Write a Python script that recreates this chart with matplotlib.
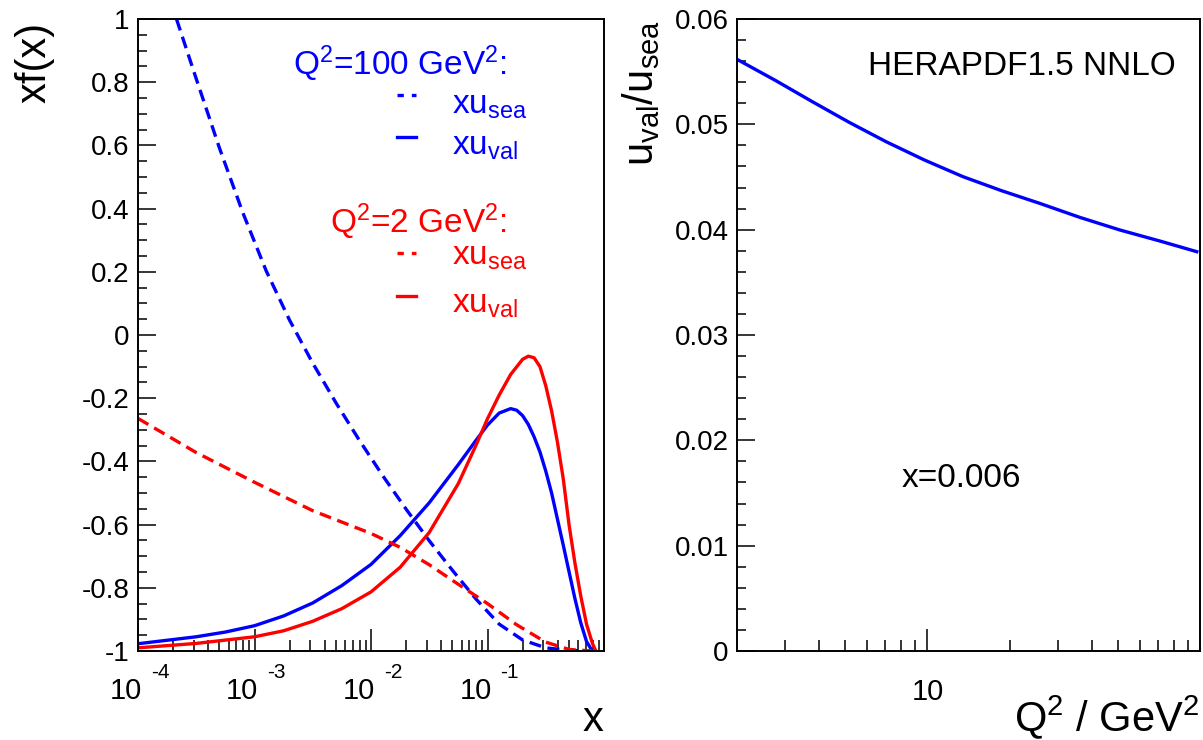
import matplotlib
matplotlib.use("Agg")
import matplotlib.pyplot as plt
from matplotlib.ticker import FixedLocator, MultipleLocator, NullFormatter, FuncFormatter
from matplotlib.transforms import offset_copy


# left panel: curves (x, xf(x))
sea100_x = [2.14e-4, 3.16e-4, 5.01e-4, 7.94e-4, 1.26e-3, 2.0e-3, 3.16e-3, 5.01e-3,
            7.94e-3, 0.0126, 0.02, 0.0316, 0.0501, 0.0794, 0.126, 0.2, 0.316, 0.501, 0.794]
sea100_y = [1.0, 0.811, 0.591, 0.387, 0.203, 0.047, -0.089, -0.215,
            -0.333, -0.445, -0.551, -0.651, -0.745, -0.835, -0.915, -0.965, -0.990, -0.998, -1.0]

val100_x = [1e-4, 3.16e-4, 5.62e-4, 1e-3, 1.78e-3, 3.16e-3, 5.62e-3, 0.01, 0.0178,
            0.0316, 0.0562, 0.0794, 0.1, 0.126, 0.158, 0.178, 0.2, 0.224, 0.251, 0.282,
            0.316, 0.355, 0.398, 0.447, 0.501, 0.562, 0.631, 0.708, 0.794]
val100_y = [-0.977, -0.955, -0.940, -0.920, -0.889, -0.848, -0.793, -0.726, -0.635,
            -0.531, -0.410, -0.334, -0.285, -0.247, -0.233, -0.238, -0.255, -0.283, -0.322, -0.370,
            -0.430, -0.500, -0.582, -0.665, -0.749, -0.833, -0.910, -0.970, -1.0]

sea2_x = [1e-4, 3.16e-4, 1e-3, 3.16e-3, 0.01, 0.0178, 0.0316, 0.0562,
          0.1, 0.178, 0.316, 0.501, 0.794]
sea2_y = [-0.264, -0.372, -0.466, -0.556, -0.628, -0.672, -0.727, -0.789,
          -0.850, -0.917, -0.972, -0.995, -1.0]

val2_x = [1e-4, 3.16e-4, 1e-3, 1.78e-3, 3.16e-3, 5.62e-3, 0.01, 0.0178, 0.0316,
          0.0562, 0.0794, 0.1, 0.126, 0.158, 0.2, 0.224, 0.251, 0.282, 0.316,
          0.355, 0.398, 0.447, 0.501, 0.562, 0.631, 0.708, 0.794, 0.851]
val2_y = [-0.990, -0.976, -0.955, -0.936, -0.906, -0.866, -0.813, -0.735, -0.625,
          -0.470, -0.350, -0.265, -0.190, -0.125, -0.077, -0.067, -0.072, -0.100, -0.160,
          -0.240, -0.338, -0.455, -0.600, -0.720, -0.825, -0.915, -0.975, -1.0]

# right panel: u_val / u_sea at x=0.006 vs Q^2
q2 = [2.0, 2.78, 3.78, 5.16, 7.05, 9.75, 13.5, 18.7, 25.8, 36.2, 50.8, 71.3, 97.3]
ratio = [0.05617, 0.05414, 0.05215, 0.05019, 0.04835, 0.04661, 0.04503, 0.04370,
         0.04250, 0.04117, 0.03997, 0.03892, 0.03791]

x_decades = [1e-4, 1e-3, 1e-2, 1e-1]
x_exponents = ["-4", "-3", "-2", "-1"]

BLUE = "#0000ff"
RED = "#ff0000"
DASH = (3.6, 2.0)
KEY_DASH = (1.9, 2.4)


plt.rcParams["font.family"] = ["Liberation Sans", "DejaVu Sans"]
plt.rcParams["mathtext.fontset"] = "custom"
plt.rcParams["mathtext.rm"] = "Liberation Sans"
plt.rcParams["mathtext.it"] = "Liberation Sans:italic"
plt.rcParams["mathtext.default"] = "regular"
plt.rcParams["axes.unicode_minus"] = False

W, H = 1203, 740
fig = plt.figure(figsize=(W / 100, H / 100), dpi=100)

ax1 = fig.add_axes([138 / W, (H - 651) / H, 466 / W, 632 / H])
ax2 = fig.add_axes([737 / W, (H - 651) / H, 463 / W, 632 / H])


def tick_text(v, pos):
    s = f"{round(v, 4):g}"
    return "0" if s == "-0" else s


def style_axes(ax):
    for s in ax.spines.values():
        s.set_linewidth(1.4)
    ax.tick_params(which="both", direction="in", top=False, right=False,
                   width=1.1, colors="black")
    ax.tick_params(axis="y", which="major", length=13, pad=6, labelsize=20)
    ax.tick_params(axis="y", which="minor", length=6.5)
    ax.tick_params(axis="x", which="major", length=16)
    ax.tick_params(axis="x", which="minor", length=8)
    ax.yaxis.set_major_formatter(FuncFormatter(tick_text))


# ---- left panel
lw = 2.4
ax1.plot(sea100_x, sea100_y, color=BLUE, lw=lw, dashes=DASH)
ax1.plot(val100_x, val100_y, color=BLUE, lw=lw)
ax1.plot(sea2_x, sea2_y, color=RED, lw=lw, dashes=DASH)
ax1.plot(val2_x, val2_y, color=RED, lw=lw)

ax1.set_xscale("log")
ax1.set_xlim(1e-4, 1)
ax1.set_ylim(-1, 1)
style_axes(ax1)

ax1.xaxis.set_major_locator(FixedLocator(x_decades))
ax1.xaxis.set_minor_locator(FixedLocator(
    [m * d for d in x_decades for m in range(2, 10)]))
ax1.xaxis.set_major_formatter(NullFormatter())
ax1.xaxis.set_minor_formatter(NullFormatter())
ax1.yaxis.set_major_locator(MultipleLocator(0.2))
ax1.yaxis.set_minor_locator(MultipleLocator(0.05))

base_tr = offset_copy(ax1.get_xaxis_transform(), fig=fig, x=4, y=-48, units="dots")
exp_tr = offset_copy(ax1.get_xaxis_transform(), fig=fig, x=13, y=-27, units="dots")
for d, e in zip(x_decades, x_exponents):
    ax1.text(d, 0, "10", transform=base_tr, ha="right", va="baseline", fontsize=21)
    ax1.text(d, 0, e, transform=exp_tr, ha="left", va="baseline", fontsize=15)

# legend block
tsize = 24
key_x = [0.556, 0.596]
ax1.text(0.792, 0.911, r"Q$^2$=100 GeV$^2$:", color=BLUE, fontsize=tsize,
         ha="right", va="baseline", transform=ax1.transAxes)
ax1.plot(key_x, [0.880, 0.880], color=BLUE, lw=lw, dashes=KEY_DASH,
         transform=ax1.transAxes)
ax1.text(0.674, 0.851, r"xu$_{sea}$", color=BLUE, fontsize=tsize,
         ha="left", va="baseline", transform=ax1.transAxes)
ax1.plot(key_x, [0.813, 0.813], color=BLUE, lw=lw,
         transform=ax1.transAxes)
ax1.text(0.674, 0.785, r"xu$_{val}$", color=BLUE, fontsize=tsize,
         ha="left", va="baseline", transform=ax1.transAxes)

ax1.text(0.792, 0.661, r"Q$^2$=2 GeV$^2$:", color=RED, fontsize=tsize,
         ha="right", va="baseline", transform=ax1.transAxes)
ax1.plot(key_x, [0.630, 0.630], color=RED, lw=lw, dashes=KEY_DASH,
         transform=ax1.transAxes)
ax1.text(0.674, 0.611, r"xu$_{sea}$", color=RED, fontsize=tsize,
         ha="left", va="baseline", transform=ax1.transAxes)
ax1.plot(key_x, [0.562, 0.562], color=RED, lw=lw,
         transform=ax1.transAxes)
ax1.text(0.674, 0.536, r"xu$_{val}$", color=RED, fontsize=tsize,
         ha="left", va="baseline", transform=ax1.transAxes)

# ---- right panel
ax2.plot(q2, ratio, color=BLUE, lw=lw)
ax2.set_xscale("log")
ax2.set_xlim(2, 100)
ax2.set_ylim(0, 0.06)
style_axes(ax2)
ax2.xaxis.set_major_locator(FixedLocator([10]))
ax2.xaxis.set_minor_locator(FixedLocator(
    [m for m in range(3, 10)] + [10 * m for m in range(2, 10)]))
ax2.xaxis.set_major_formatter(NullFormatter())
ax2.xaxis.set_minor_formatter(NullFormatter())
ax2.yaxis.set_major_locator(MultipleLocator(0.01))
ax2.yaxis.set_minor_locator(MultipleLocator(0.002))

q_tr = offset_copy(ax2.get_xaxis_transform(), fig=fig, x=0, y=-49, units="dots")
ax2.text(10, 0, "10", transform=q_tr, ha="center", va="baseline", fontsize=21)

ax2.text(0.6145, 0.911, "HERAPDF1.5 NNLO", fontsize=tsize, ha="center",
         va="baseline", transform=ax2.transAxes)
ax2.text(0.484, 0.259, "x=0.006", fontsize=tsize, ha="center",
         va="baseline", transform=ax2.transAxes)

# axis titles (ROOT style, at the axis ends)
fig.text(35 / W, 1 - 22 / H, "xf(x)", rotation=90, ha="center", va="top",
         fontsize=30)
fig.text(603 / W, 9 / H, "x", ha="right", va="baseline", fontsize=30)
fig.text(662 / W, 1 - 20 / H, r"u$_{val}$/u$_{sea}$", rotation=90, ha="right",
         va="top", fontsize=30)
fig.text(1199 / W, 9 / H, r"Q$^2$ / GeV$^2$", ha="right", va="baseline",
         fontsize=30)

fig.savefig("out.png", dpi=100)
